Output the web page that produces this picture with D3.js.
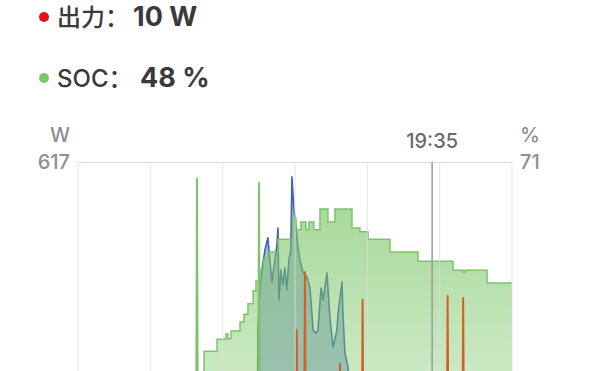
<!DOCTYPE html>
<html>
<head>
<meta charset="utf-8">
<script src="https://cdn.jsdelivr.net/npm/d3@7"></script>
<style>
  html, body { margin: 0; padding: 0; background: #fff; overflow: hidden; }
  svg { display: block; font-family: Inter, "Noto Sans CJK SC", "Noto Sans", sans-serif; }
</style>
</head>
<body>
<svg id="chart" width="600" height="371"></svg>
<script>
// ---------- data ----------
const xTicks = [0, 4, 8, 12, 16, 20, 24];      // hours (grid lines)
const wMax = 617;                              // left axis max (W)
const socMax = 71;                             // right axis max (%)
const cursorHour = 19 + 35 / 60;               // 19:35
const cursorLabel = "19:35";
const legendLabels = ["出力：", "SOC："];
const legendValues = ["10 W", "48 %"];

// SOC (%) – step changes
const socHours = [6.96, 6.97, 7.69, 8.18, 8.29, 8.46, 8.96, 9.18, 9.40, 9.68, 9.84, 10.06, 10.25, 10.50, 11.06, 11.86, 12.05, 12.33, 12.60, 12.77, 13.04, 13.38, 13.82, 14.21, 15.15, 15.59, 16.04, 17.25, 18.80, 20.74, 21.29, 21.40, 22.62, 24.0];
const socValues = [0, 27.1, 29.9, 31.1, 30.0, 31.8, 33.9, 35.7, 38.1, 41.1, 43.4, 46.0, 48.5, 50.1, 53.1, 58.0, 55.3, 57.1, 55.3, 57.1, 55.3, 60.1, 57.1, 60.1, 55.7, 54.8, 53.1, 50.1, 48.0, 45.9, 45.4, 45.9, 42.9, 42.9];

// PV input (W)
const pvHours = [9.90, 9.95, 10.06, 10.17, 10.34, 10.50, 10.61, 10.72, 10.89, 11.00, 11.06, 11.11, 11.22, 11.33, 11.44, 11.55, 11.66, 11.77, 11.83, 11.94, 12.05, 12.16, 12.27, 12.44, 12.66, 12.83, 13.00, 13.16, 13.27, 13.44, 13.55, 13.77, 13.82, 13.93, 14.10, 14.32, 14.38, 14.60, 14.65, 14.76, 14.93, 15.04, 15.10];
const pvValues = [0, 278, 359, 399, 440, 464, 419, 375, 419, 450, 484, 339, 399, 369, 403, 359, 419, 440, 587, 520, 490, 445, 419, 395, 385, 363, 278, 272, 278, 363, 339, 393, 365, 304, 244, 278, 312, 375, 312, 232, 204, 120, 0];

// Output (W) – spikes
const outHours = [12.10, 12.55, 14.49, 15.74, 20.44, 21.30];
const outValues = [278, 395, 210, 339, 347, 343];

// AC input (W) – spikes
const acHours = [6.58, 10.01];
const acValues = [583, 575];

// ---------- layout ----------
const svg = d3.select("#chart");
const x = d3.scaleLinear().domain([0, 24]).range([78, 512]);
const yW = d3.scaleLinear().domain([0, wMax]).range([468, 162]);
const ySoc = d3.scaleLinear().domain([0, socMax]).range([468, 162]);

const defs = svg.append("defs");
const grad = defs.append("linearGradient").attr("id", "socGrad")
  .attr("gradientUnits", "userSpaceOnUse")
  .attr("x1", 0).attr("x2", 0).attr("y1", ySoc(60)).attr("y2", ySoc(0));
grad.append("stop").attr("offset", "0").attr("stop-color", "#7cc668").attr("stop-opacity", 0.66);
grad.append("stop").attr("offset", "1").attr("stop-color", "#7cc668").attr("stop-opacity", 0.24);

const clip = defs.append("clipPath").attr("id", "plotClip");
clip.append("rect").attr("x", x(0)).attr("y", 150).attr("width", x(24) - x(0)).attr("height", 330);

const plot = svg.append("g").attr("clip-path", "url(#plotClip)");

// PV area
const pv = pvHours.map((h, i) => [h, pvValues[i]]);
plot.append("path").datum(pv)
  .attr("d", d3.area().x(d => x(d[0])).y0(yW(0)).y1(d => yW(d[1])))
  .attr("fill", "#3f5fb0").attr("fill-opacity", 0.42);
plot.append("path").datum(pv)
  .attr("d", d3.line().x(d => x(d[0])).y(d => yW(d[1])))
  .attr("fill", "none").attr("stroke", "#3f5fb0").attr("stroke-width", 1.6).attr("stroke-linejoin", "round");

// spikes helper
function spikes(hours, values) {
  const pts = [];
  hours.forEach((h, i) => { pts.push([h - 0.05, 0], [h, values[i]], [h + 0.05, 0]); });
  return pts;
}

// SOC area
const soc = socHours.map((h, i) => [h, socValues[i]]);
plot.append("path").datum(soc)
  .attr("d", d3.area().curve(d3.curveStepAfter).x(d => x(d[0])).y0(ySoc(0)).y1(d => ySoc(d[1])))
  .attr("fill", "url(#socGrad)");
plot.append("path").datum(soc)
  .attr("d", d3.line().curve(d3.curveStepAfter).x(d => x(d[0])).y(d => ySoc(d[1])))
  .attr("fill", "none").attr("stroke", "#7cc36b").attr("stroke-width", 1.5);

// Output line
plot.append("path").datum(spikes(outHours, outValues))
  .attr("d", d3.line().x(d => x(d[0])).y(d => yW(d[1])))
  .attr("fill", "none").attr("stroke", "#d0602c").attr("stroke-width", 2).attr("stroke-linejoin", "round");

// AC input spikes
plot.append("path").datum(spikes(acHours, acValues))
  .attr("d", d3.line().x(d => x(d[0])).y(d => yW(d[1])))
  .attr("fill", "none").attr("stroke", "#7cc36b").attr("stroke-width", 2).attr("stroke-linejoin", "round");

// grid lines
svg.append("g").selectAll("line").data(xTicks).join("line")
  .attr("x1", d => x(d)).attr("x2", d => x(d))
  .attr("y1", yW(wMax)).attr("y2", 480)
  .attr("stroke", "#dcdcdc").attr("stroke-opacity", 0.8).attr("stroke-width", 1);
svg.append("line")
  .attr("x1", x(0)).attr("x2", x(24)).attr("y1", yW(wMax) + 0.5).attr("y2", yW(wMax) + 0.5)
  .attr("stroke", "#dcdcdc").attr("stroke-width", 1);

// cursor
svg.append("line")
  .attr("x1", x(cursorHour)).attr("x2", x(cursorHour))
  .attr("y1", yW(wMax)).attr("y2", 480)
  .attr("stroke", "#9a9a9a").attr("stroke-width", 1.5);
svg.append("text").attr("x", x(cursorHour)).attr("y", 148)
  .attr("text-anchor", "middle").attr("font-size", 20).attr("font-weight", 500)
  .attr("fill", "#6b6b6f").text(cursorLabel);

// axes
const leftAxis = d3.axisLeft(yW).tickValues([wMax]).tickSize(0).tickPadding(8);
const gl = svg.append("g").attr("transform", `translate(${x(0)},0)`).call(leftAxis);
gl.select(".domain").remove();
gl.selectAll("text").attr("font-size", 20).attr("font-weight", 500).attr("fill", "#8e8e93").attr("font-family", "Inter, sans-serif")
  .attr("dy", null).attr("y", 6);
svg.append("text").attr("x", 70).attr("y", 142).attr("text-anchor", "end")
  .attr("font-size", 20).attr("font-weight", 500).attr("fill", "#8e8e93").text("W");

const rightAxis = d3.axisRight(ySoc).tickValues([socMax]).tickSize(0).tickPadding(8);
const gr = svg.append("g").attr("transform", `translate(${x(24)},0)`).call(rightAxis);
gr.select(".domain").remove();
gr.selectAll("text").attr("font-size", 20).attr("font-weight", 500).attr("fill", "#8e8e93").attr("font-family", "Inter, sans-serif")
  .attr("dy", null).attr("y", 6);
svg.append("text").attr("x", 520).attr("y", 142).attr("text-anchor", "start")
  .attr("font-size", 20).attr("font-weight", 500).attr("fill", "#8e8e93").text("%");

// legend
const legendColors = ["#e01414", "#7cc66b"];
const legendY = [26, 87];
const valueX = [133, 140];
legendLabels.forEach((lab, i) => {
  svg.append("circle").attr("cx", 44).attr("cy", legendY[i] - 9).attr("r", 5).attr("fill", legendColors[i]);
  svg.append("text").attr("x", 57).attr("y", legendY[i]).attr("font-size", 24).attr("font-weight", 500).attr("fill", "#3a3a3c").text(lab);
  svg.append("text").attr("x", valueX[i]).attr("y", legendY[i]).attr("font-size", 27).attr("font-weight", 700)
    .attr("fill", "#3a3a3c").text(legendValues[i]);
});
</script>
</body>
</html>
